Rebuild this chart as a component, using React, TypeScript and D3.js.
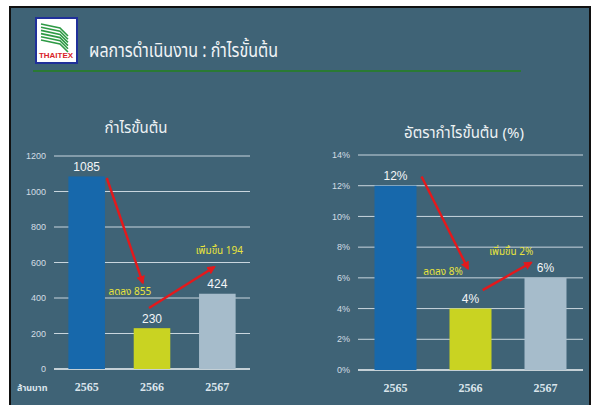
import * as d3 from 'd3';

// data
const years = ['2565', '2566', '2567'];
const grossProfit = [1085, 230, 424]; // ล้านบาท
const grossMargin = [12, 4, 6]; // %
const profitTicks = [0, 200, 400, 600, 800, 1000, 1200];
const marginTicks = [0, 2, 4, 6, 8, 10, 12, 14];
const barColors = ['#1768ab', '#c9d322', '#a6bccb'];

// arrows: [from year, from value, to year, to value, label]
const profitArrows: [string, number, string, number, string][] = [
  ['2565', 1076, '2566', 485, 'ลดลง 855'],
  ['2566', 344, '2567', 575, 'เพิ่มขึ้น 194'],
];
const marginArrows: [string, number, string, number, string][] = [
  ['2565', 12.6, '2566', 6.6, 'ลดลง 8%'],
  ['2566', 5.2, '2567', 7.0, 'เพิ่มขึ้น 2%'],
];

const W = 592;
const H = 405;
const BG = '#3f6376';
const thai = '"Noto Sans Thai", "Noto Sans Thai Looped", Loma, Garuda, "Tlwg Typo", "DejaVu Sans", sans-serif';
const sans = '"Liberation Sans", Arial, sans-serif';
const serif = '"Liberation Serif", "DejaVu Serif", serif';

interface PanelProps {
  values: number[];
  ticks: number[];
  max: number;
  fmt: (v: number) => string;
  xRange: [number, number];
  yRange: [number, number];
  title: string;
  titleX: number;
  titleY: number;
  arrows: [string, number, string, number, string][];
  arrowOffsets: number[][];
  labelOffsets: number[][];
  unit?: string;
  id: string;
}

const Panel = (p: PanelProps) => {
  const x = d3.scaleBand<string>().domain(years).range(p.xRange).paddingInner(0.44).paddingOuter(0.22);
  const y = d3.scaleLinear().domain([0, p.max]).range(p.yRange);
  const bw = x.bandwidth();
  return (
    <g>
      <text x={p.titleX} y={p.titleY} textAnchor="middle" fill="#eef2f4" fontSize={15} fontFamily={thai}>
        {p.title}
      </text>
      {p.ticks.map((t) => (
        <g key={t}>
          <line x1={p.xRange[0]} x2={p.xRange[1]} y1={y(t)} y2={y(t)} stroke={t === 0 ? '#f2f5f7' : '#c9d6de'} strokeWidth={t === 0 ? 1.6 : 1} />
          <text x={p.xRange[0] - 8} y={y(t)} dy="0.35em" textAnchor="end" fill="#d3dde4" fontSize={9} fontFamily={sans}>
            {p.fmt(t)}
          </text>
        </g>
      ))}
      {p.values.map((v, i) => (
        <g key={years[i]}>
          <rect x={x(years[i])} y={y(v)} width={bw} height={y(0) - y(v)} fill={barColors[i]} />
          <text x={(x(years[i]) as number) + bw / 2} y={y(v) - 5.5} textAnchor="middle" fill="#f4f6f8" fontSize={12} fontFamily={sans}>
            {p.fmt(v)}
          </text>
          <text x={(x(years[i]) as number) + bw / 2} y={y(0) + 22} textAnchor="middle" fill="#dbe5ec" fontSize={12} fontWeight="bold" fontFamily={serif}>
            {years[i]}
          </text>
        </g>
      ))}
      {p.unit && (
        <text x={17} y={y(0) + 22} fill="#dbe5ec" fontSize={9} fontWeight="bold" fontFamily={thai}>
          {p.unit}
        </text>
      )}
      {p.arrows.map((a, i) => {
        const [fx, tx] = p.arrowOffsets[i];
        const x1 = (x(a[0]) as number) + bw * fx;
        const x2 = (x(a[2]) as number) + bw * tx;
        const [lx, ly] = p.labelOffsets[i];
        return (
          <g key={i}>
            <line x1={x1} y1={y(a[1])} x2={x2} y2={y(a[3])} stroke="#e3191c" strokeWidth={2.4} markerEnd={`url(#${p.id}-head)`} />
            <text x={x2 + lx} y={y(a[3]) + ly} textAnchor="middle" fill="#e9e43c" fontSize={10} fontFamily={thai}>
              {a[4]}
            </text>
          </g>
        );
      })}
    </g>
  );
};

const Logo = () => (
  <g transform="translate(36,18)">
    <rect x={0} y={0} width={41} height={45} fill="#ffffff" stroke="#20309a" strokeWidth={2} />
    {d3.range(6).map((i) => (
      <path key={i} d={`M5,${6 + i * 3.2} L24,${10 + i * 3.2} L32,${18 + i * 3.2}`} fill="none" stroke="#2e9a45" strokeWidth={1.6} />
    ))}
    <text x={20} y={40} textAnchor="middle" fill="#d8232a" fontSize={8} fontWeight="bold" fontFamily={sans}>
      THAITEX
    </text>
  </g>
);

const arrowDefs = ['left', 'right'];

export default function App() {
  return (
    <svg width={W} height={H} style={{ position: 'absolute', left: 0, top: 0 }}>
      <defs>
        {arrowDefs.map((id) => (
          <marker key={id} id={`${id}-head`} viewBox="0 0 10 10" refX={8} refY={5} markerWidth={3.6} markerHeight={3.6} orient="auto">
            <path d="M0,0 L10,5 L0,10 z" fill="#e3191c" />
          </marker>
        ))}
      </defs>
      <rect x={0} y={0} width={W} height={H} fill="#ffffff" />
      <rect x={10} y={7} width={580} height={H} fill={BG} stroke="#111" strokeWidth={2} />
      <Logo />
      <text x={89} y={57} fill="#f2f4f6" fontSize={20} fontFamily={thai} textLength={189} lengthAdjust="spacingAndGlyphs">
        ผลการดำเนินงาน : กำไรขั้นต้น
      </text>
      <line x1={33} x2={521} y1={71} y2={71} stroke="#2a7a34" strokeWidth={2} />
      <Panel
        id="left"
        values={grossProfit}
        ticks={profitTicks}
        max={1200}
        fmt={(v) => `${v}`}
        xRange={[54, 250]}
        yRange={[369, 156]}
        title="กำไรขั้นต้น"
        titleX={136}
        titleY={133}
        arrows={profitArrows}
        arrowOffsets={[[1.05, 0.25], [0.42, 0.42]]}
        labelOffsets={[[-13, 12], [5, -13]]}
        unit="ล้านบาท"
      />
      <Panel
        id="right"
        values={grossMargin}
        ticks={marginTicks}
        max={14}
        fmt={(v) => `${v}%`}
        xRange={[358, 583]}
        yRange={[370, 155]}
        title="อัตรากำไรขั้นต้น (%)"
        titleX={464}
        titleY={138}
        arrows={marginArrows}
        arrowOffsets={[[1.12, 0.44], [0.79, 0.16]]}
        labelOffsets={[[-25, 6], [-20, -8]]}
      />
    </svg>
  );
}
